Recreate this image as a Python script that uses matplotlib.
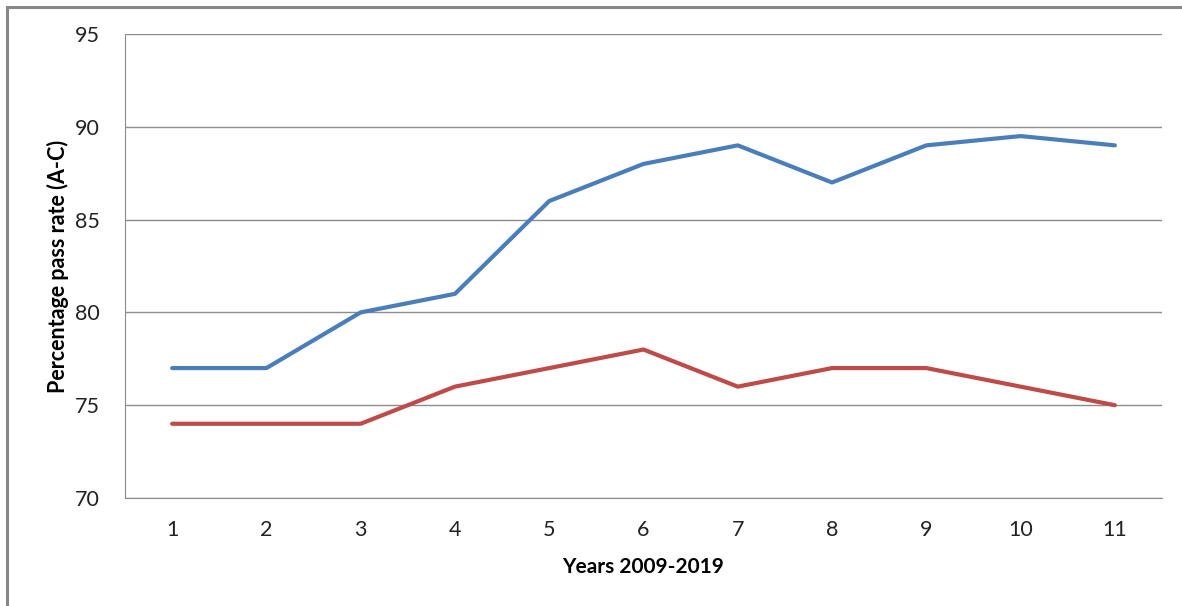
import matplotlib.pyplot as plt
from matplotlib.patches import Rectangle

years = [1, 2, 3, 4, 5, 6, 7, 8, 9, 10, 11]
blue_rate = [77, 77, 80, 81, 86, 88, 89, 87, 89, 89.5, 89]
red_rate = [74, 74, 74, 76, 77, 78, 76, 77, 77, 76, 75]

plt.rcParams['font.family'] = ['Lato', 'DejaVu Sans']

fig = plt.figure(figsize=(11.82, 6.06), dpi=100)
ax = fig.add_axes([125 / 1182, 1 - 498 / 606, 1037 / 1182, 464 / 606])

# outer chart frame
fig.patches.append(Rectangle((7 / 1182, -0.05), 1.1, 1 - 7 / 606 + 0.05,
                             transform=fig.transFigure, fill=False,
                             edgecolor='#878787', linewidth=2.2))

ax.plot(years, blue_rate, color='#4A7EBB', linewidth=3, solid_capstyle='round', solid_joinstyle='round')
ax.plot(years, red_rate, color='#BE4B48', linewidth=3, solid_capstyle='round', solid_joinstyle='round')

ax.set_xlim(0.5, 11.5)
ax.set_ylim(70, 95)
ax.set_yticks(range(70, 96, 5))
ax.set_xticks(years)
ax.yaxis.grid(True, color='#8c8c8c', linewidth=1)
ax.set_axisbelow(True)
for side in ['top', 'right']:
    ax.spines[side].set_visible(False)
for side in ['left', 'bottom']:
    ax.spines[side].set_color('#8c8c8c')
ax.tick_params(axis='both', length=0, labelsize=15.5, colors='#222222')
ax.tick_params(axis='y', pad=18)
ax.tick_params(axis='x', pad=16)

ax.set_xlabel('Years 2009-2019', fontsize=15, fontweight='bold', labelpad=12)
ax.set_ylabel('Percentage pass rate (A-C)', fontsize=15.5, fontweight='bold', labelpad=4)

plt.savefig('out.png', dpi=100)
